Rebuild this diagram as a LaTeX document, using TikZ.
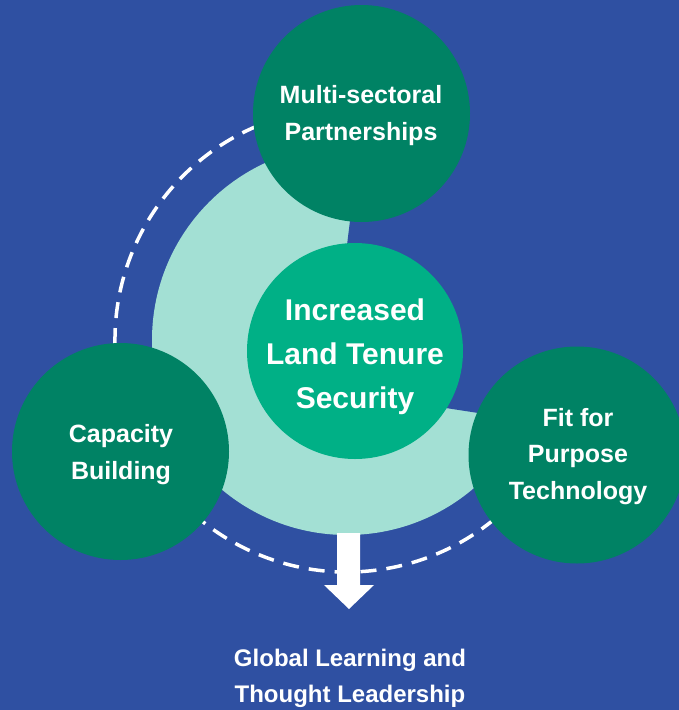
\documentclass[tikz,border=0pt]{standalone}
\usepackage{fontspec}
\setmainfont{Liberation Sans}
\definecolor{bgblue}{HTML}{2F50A2}
\definecolor{darkgreen}{HTML}{008264}
\definecolor{midgreen}{HTML}{00B086}
\definecolor{lightteal}{HTML}{A3E0D4}
\begin{document}
\begin{tikzpicture}[x=1pt,y=-1pt,
  pillar/.style={circle, fill=darkgreen, minimum size=217pt, inner sep=0pt},
  core/.style={circle, fill=midgreen, minimum size=216pt, inner sep=0pt},
  sidelabel/.style={text=white, font=\bfseries\fontsize{25}{36.5}\selectfont, align=center, anchor=base, inner sep=0pt},
  corelabel/.style={text=white, font=\bfseries\fontsize{30}{44}\selectfont, align=center, anchor=base, inner sep=0pt},
  footlabel/.style={text=white, font=\bfseries\fontsize{24}{36}\selectfont, align=center, anchor=base, inner sep=0pt},
  cycleline/.style={white, line width=3.5pt, dash pattern=on 16pt off 10pt},
  bigarrow/.style={fill=white}]
\useasboundingbox (0,0) rectangle (679,710);
\clip (0,0) rectangle (679,710);
\fill[bgblue] (0,0) rectangle (679,710);
\coordinate (ctr) at (347,340);
% light three-quarter disc
\fill[lightteal] (ctr) circle[radius=195];
\fill[bgblue] (329,390) -- (365,100) -- (560,100) -- (560,425.6) -- cycle;
% dashed cycle
\draw[cycleline] (ctr) ++(-100:232) arc[start angle=-100, end angle=-315, radius=232];
% arrow
\fill[bigarrow] (337,533) -- (360,533) -- (360,585) -- (374,585) -- (349,609) -- (324,585) -- (337,585) -- cycle;
% circles
\node[core] (core) at (355,351) {};
\node[pillar] (top) at (361.5,113.5) {};
\node[pillar] (left) at (120.5,451.5) {};
\node[pillar] (right) at (577,455) {};
% labels (base anchor = baseline of last line)
\node[corelabel] (coretext) at (355,408) {Increased\\Land Tenure\\Security};
\node[sidelabel] (toptext) at (361,140) {Multi-sectoral\\Partnerships};
\node[sidelabel] (lefttext) at (121,479) {Capacity\\Building};
\node[sidelabel] (righttext) at (578,499) {Fit for\\Purpose\\Technology};
\node[footlabel] (foot) at (350,702) {Global Learning and\\Thought Leadership};
\end{tikzpicture}
\end{document}
